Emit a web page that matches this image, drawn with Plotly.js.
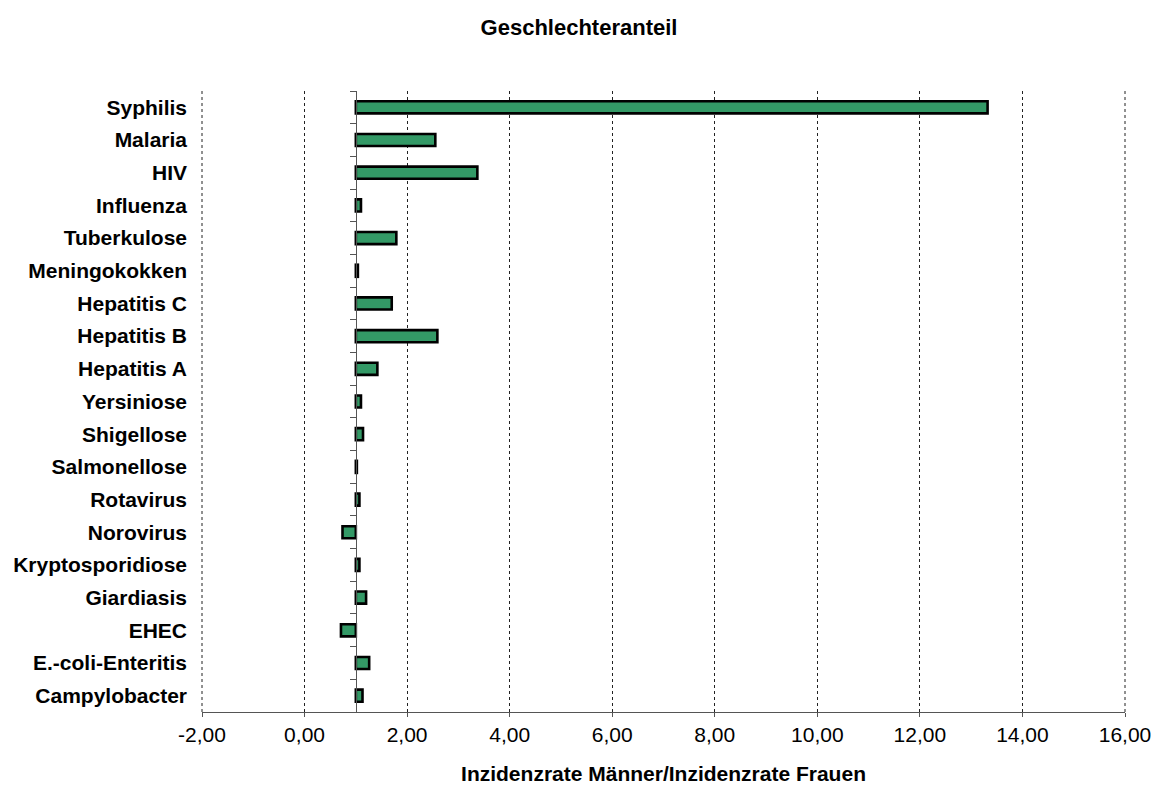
<!DOCTYPE html>
<html>
<head>
<meta charset="utf-8">
<script src="https://cdn.plot.ly/plotly-3.0.1.min.js"></script>
<style>html,body{margin:0;padding:0;background:#fff;}#chart{width:1158px;height:792px;}</style>
</head>
<body>
<div id="chart"></div>
<script>
// Categories, top to bottom as shown in the chart
var categories = ["Syphilis","Malaria","HIV","Influenza","Tuberkulose","Meningokokken","Hepatitis C","Hepatitis B","Hepatitis A","Yersiniose","Shigellose","Salmonellose","Rotavirus","Norovirus","Kryptosporidiose","Giardiasis","EHEC","E.-coli-Enteritis","Campylobacter"];
// Ratio incidence men / incidence women
var ratios = [13.32,2.55,3.37,1.10,1.79,1.04,1.70,2.59,1.42,1.10,1.14,1.02,1.07,0.74,1.07,1.20,0.71,1.26,1.13];
// Reference line (bars start at ratio 1)
var baseline = 1;
// x tick values
var xTicks = [-2, 0, 2, 4, 6, 8, 10, 12, 14, 16];

var FONT = '"Liberation Sans", Arial, Helvetica, sans-serif';

function fmt(v){ return v.toFixed(2).replace('.', ','); }

var trace = {
  type: 'bar',
  orientation: 'h',
  y: categories,
  x: ratios.map(function(v){ return v - baseline; }),
  base: ratios.map(function(){ return baseline; }),
  width: 0.37,
  marker: {color: '#339966', line: {color: '#000000', width: 2.6}},
  hoverinfo: 'y+text',
  text: ratios.map(fmt),
  textposition: 'none'
};

var n = categories.length;
var xMin = xTicks[0], xMax = xTicks[xTicks.length - 1];
var axisPos = (baseline - xMin) / (xMax - xMin);

// gridlines at the two range ends (Plotly omits them at the plot edges)
var edgeGrid = [xMin, xMax].map(function(v){
  var p = (v - xMin) / (xMax - xMin);
  return {type: 'line', xref: 'paper', yref: 'paper', x0: p, x1: p, y0: 0, y1: 1,
          line: {color: '#222222', width: 1, dash: 'dot'}, layer: 'above'};
});

var layout = {
  width: 1158,
  height: 792,
  paper_bgcolor: '#ffffff',
  plot_bgcolor: '#ffffff',
  showlegend: false,
  margin: {l: 202, r: 33, t: 91, b: 80, pad: 0},
  font: {family: FONT, color: '#000000', size: 21},
  title: {
    text: 'Geschlechteranteil',
    font: {family: FONT, size: 22, weight: 'bold', color: '#000'},
    x: 0.5, xref: 'container', xanchor: 'center',
    y: 1 - 27/792, yref: 'container', yanchor: 'middle'
  },
  shapes: edgeGrid,
  xaxis: {
    range: [xMin, xMax],
    tickmode: 'array',
    tickvals: xTicks,
    ticktext: xTicks.map(fmt),
    showgrid: true,
    gridcolor: '#222222',
    gridwidth: 1,
    griddash: 'dot',
    zeroline: false,
    showline: true,
    linecolor: '#555555',
    linewidth: 1,
    ticks: 'outside',
    ticklen: 4,
    tickcolor: '#555555',
    tickfont: {family: FONT, size: 21, color: '#000'},
    fixedrange: true,
    title: {
      text: 'Inzidenzrate Männer/Inzidenzrate Frauen',
      font: {family: FONT, size: 21, weight: 'bold', color: '#000'},
      standoff: 21
    }
  },
  yaxis: {
    type: 'category',
    categoryorder: 'array',
    categoryarray: categories,
    autorange: 'reversed',
    showgrid: false,
    zeroline: false,
    showline: false,
    ticks: '',
    ticklabelstandoff: 14,
    tickfont: {family: FONT, size: 21, weight: 'bold', color: '#000'},
    fixedrange: true
  },
  yaxis2: {
    overlaying: 'y',
    anchor: 'free',
    position: axisPos,
    side: 'left',
    range: [n - 0.5, -0.5],
    tickmode: 'linear',
    tick0: -0.5,
    dtick: 1,
    showticklabels: false,
    showgrid: false,
    zeroline: false,
    showline: true,
    linecolor: '#555555',
    linewidth: 1,
    ticks: 'outside',
    ticklen: 6,
    tickcolor: '#555555',
    fixedrange: true
  }
};

// invisible helper so the crossing axis at ratio 1 is rendered
var helper = {
  type: 'scatter', mode: 'markers',
  x: [baseline], y: [0], yaxis: 'y2',
  marker: {opacity: 0}, hoverinfo: 'skip', showlegend: false
};

Plotly.newPlot('chart', [trace, helper], layout, {displayModeBar: false, staticPlot: true});
</script>
</body>
</html>
